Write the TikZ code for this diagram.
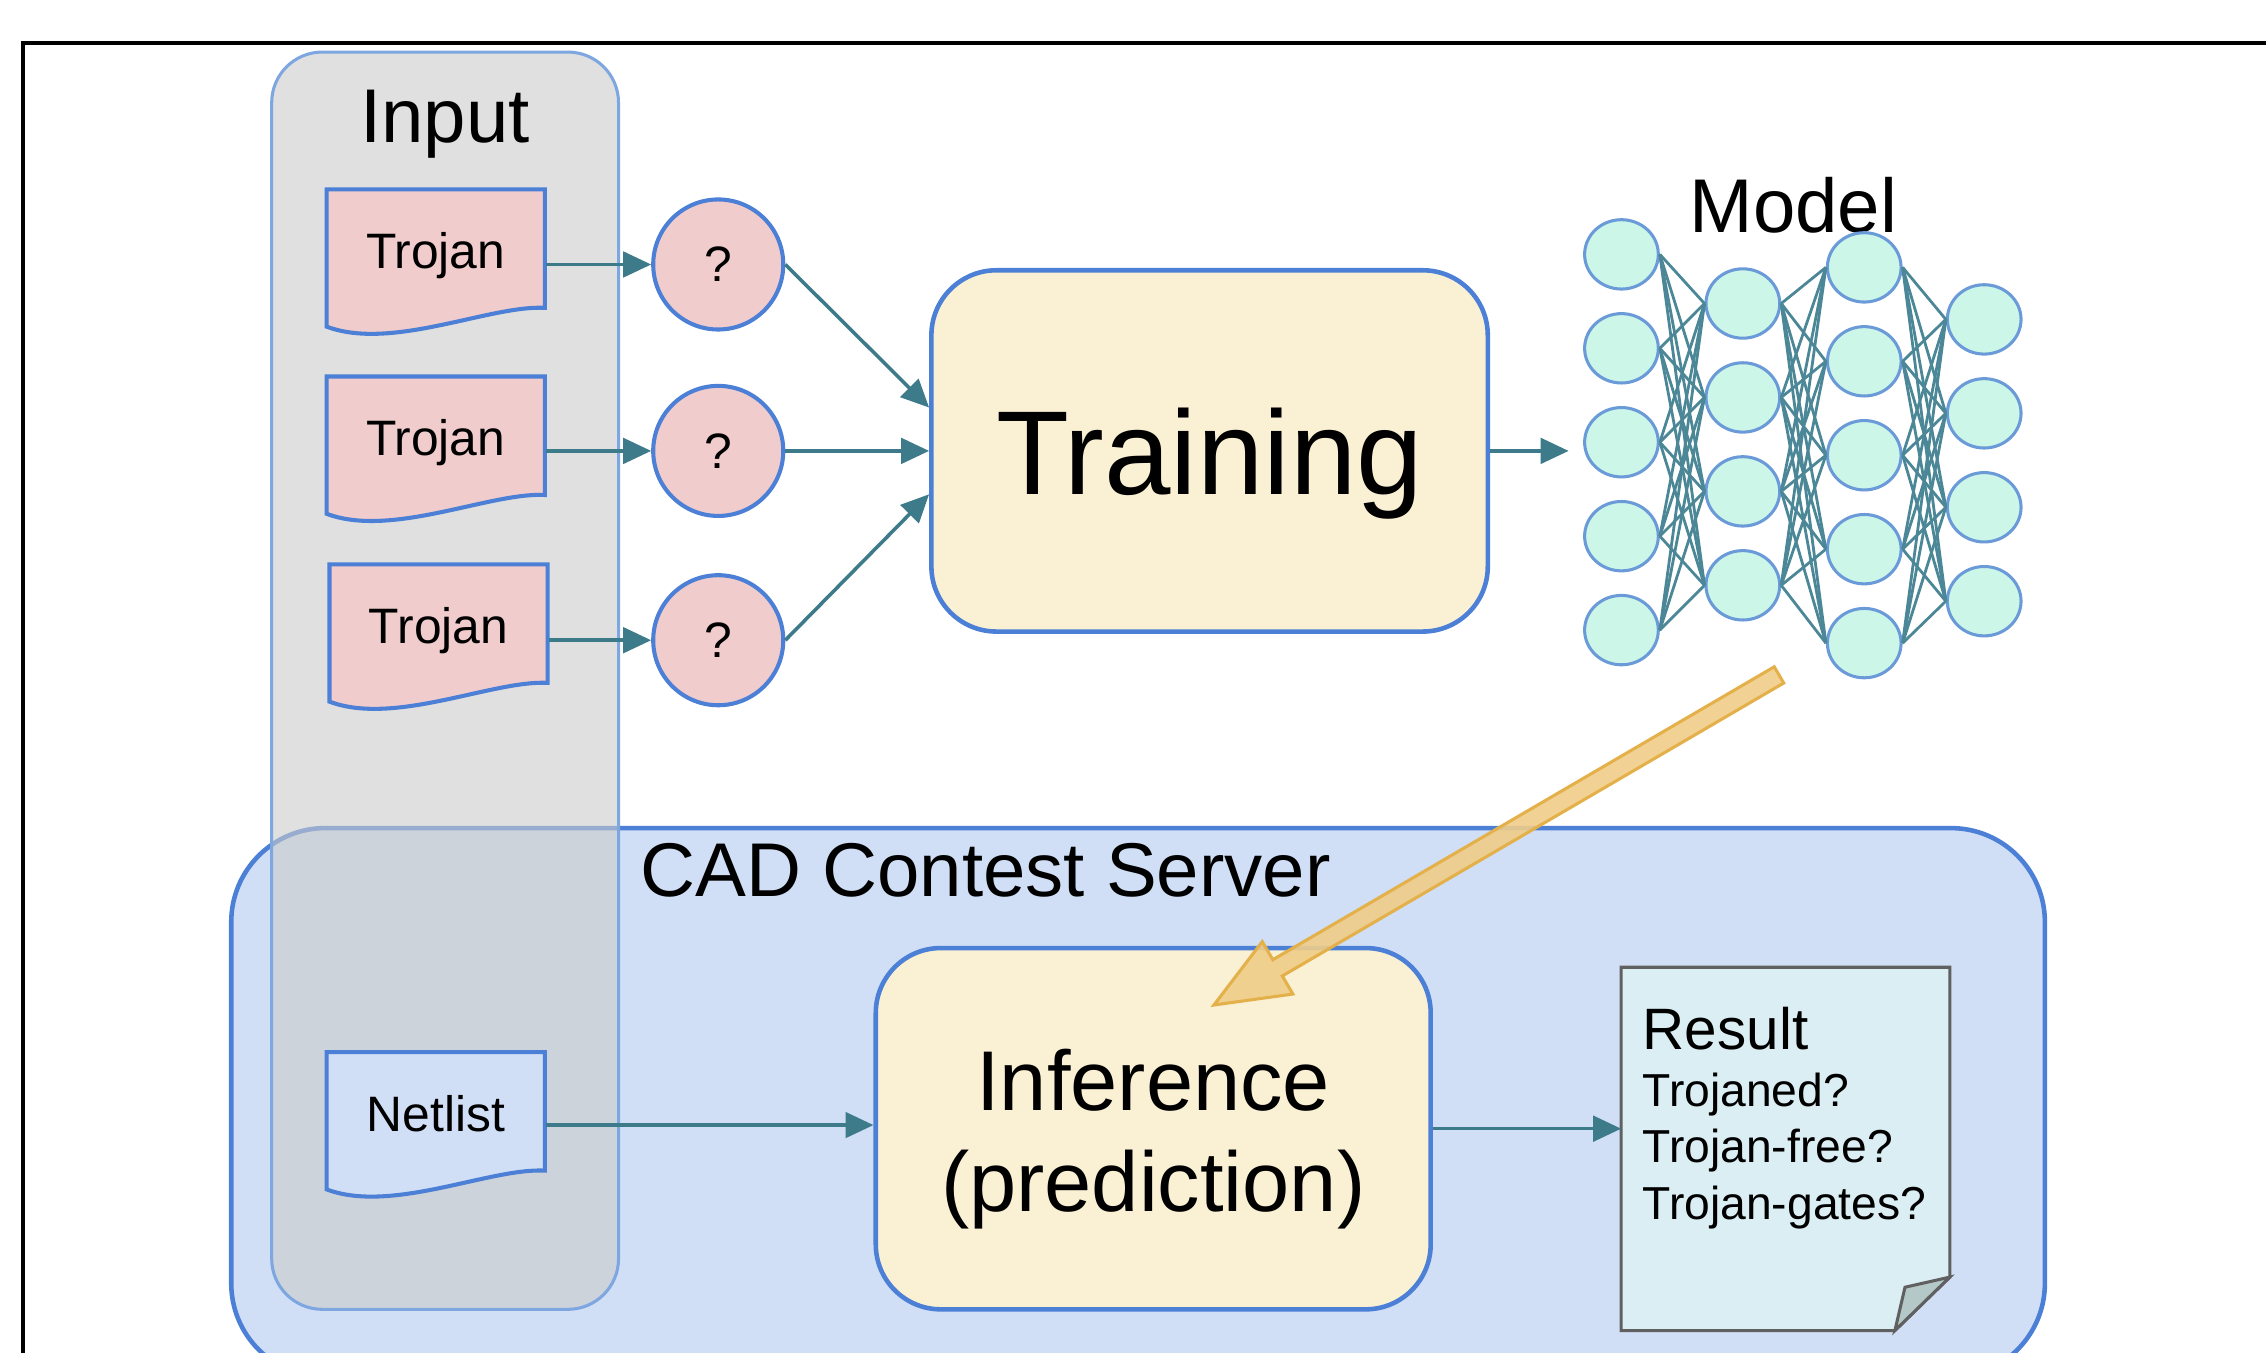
\documentclass[tikz,border=0pt]{standalone}
\usepackage{fontspec}
\setmainfont{Liberation Sans}
\usetikzlibrary{arrows.meta,calc,shapes.geometric}
\definecolor{linkteal}{HTML}{3D7A8A}
\definecolor{boxblue}{HTML}{4C7FD6}
\definecolor{trojanpink}{HTML}{F0CCCC}
\definecolor{creamfill}{HTML}{FAF0D4}
\definecolor{mintfill}{HTML}{CCF6E8}
\definecolor{mintline}{HTML}{6A9AD8}
\definecolor{wireteal}{HTML}{4B8796}
\definecolor{panelgray}{HTML}{CBCBCB}
\definecolor{panelline}{HTML}{7EA6E0}
\definecolor{serverblue}{HTML}{D0DFF5}
\definecolor{resultfill}{HTML}{DBEEF4}
\definecolor{resline}{HTML}{606060}
\definecolor{foldfill}{HTML}{B4C8C8}
\definecolor{arrowgold}{HTML}{F0CD88}
\definecolor{arrowgoldline}{HTML}{E3B04A}
\newcommand{\docnode}[4]{%
  \draw[docline,fill=#3] ($#2+(-75.5,-50.5)$) -- ++(151,0) -- ++(0,82)
    .. controls +(-38,-2) and +(45,17) .. ++(-151,13) -- cycle;
  \node[doc] (#1) at #2 {#4};
}

\begin{document}
\begin{tikzpicture}[
      x=0.1mm,y=-0.1mm,
      every node/.style={inner sep=0pt},
      flow/.style={draw=linkteal,line width=0.7pt,-{Triangle[length=5.5pt,width=5pt]}},
      docline/.style={draw=boxblue,line width=0.8pt},
      doc/.style={minimum width=15.1mm,minimum height=10.1mm,text depth=1.6mm,font=\fontsize{9.8}{12}\selectfont},
      qnode/.style={circle,draw=boxblue,line width=0.8pt,fill=trojanpink,minimum size=9mm,font=\fontsize{9.8}{12}\selectfont},
      stage/.style={rounded corners=4.5mm,draw=boxblue,line width=0.9pt,fill=creamfill,minimum width=38.5mm,minimum height=25mm},
      neuron/.style={ellipse,draw=mintline,line width=0.6pt,fill=mintfill,minimum width=5.1mm,minimum height=4.8mm},
      wire/.style={draw=wireteal,line width=0.55pt},
      title/.style={font=\fontsize{15}{18}\selectfont}
    ]
  \useasboundingbox (0,0) rectangle (1568,936);
  \clip (0,0) rectangle (1568,936);
  \draw[line width=0.75pt] (16,1000) |- (1700,30);
  \node[rounded corners=6.5mm,draw=boxblue,line width=0.9pt,fill=serverblue,
    minimum width=125.5mm,minimum height=38mm] (server) at (787.5,763) {};
  \node[rounded corners=3.5mm,draw=panelline,line width=0.6pt,fill=panelgray,fill opacity=0.6,
    minimum width=24mm,minimum height=87mm] (inpanel) at (308,471) {};
  \node[title] (input) at (308,86) {Input};
  \node[title] (cad) at (682,602) {CAD Contest Server};

  \docnode{t1}{(301.5,181.5)}{trojanpink}{Trojan}
  \docnode{t2}{(301.5,311)}{trojanpink}{Trojan}
  \docnode{t3}{(303.5,441)}{trojanpink}{Trojan}
  \foreach \i/\y in {1/183,2/312,3/443}
    \node[qnode] (q\i) at (497,\y) {?};
  \node[stage,font=\fontsize{23.5}{28}\selectfont,text depth=0pt] (train) at (837,312) {Training};
  \foreach \i in {1,2,3}
    \draw[flow] (t\i.east |- q\i) -- (q\i);
  \draw[flow] (q1.east) -- ([yshift=3mm]train.west);
  \draw[flow] (q2) -- (train);
  \draw[flow] (q3.east) -- ([yshift=-3mm]train.west);

  \node[title] (model) at (1241,142) {Model};
  \foreach \i in {1,...,5} {
    \node[neuron] (a\i) at (1122,{111+65*\i}) {};
    \node[neuron] (c\i) at (1290,{120+65*\i}) {};
  }
  \foreach \i in {1,...,4} {
    \node[neuron] (b\i) at (1206,{145+65*\i}) {};
    \node[neuron] (d\i) at (1373,{156+65*\i}) {};
  }
  \foreach \i in {1,...,5}
    \foreach \j in {1,...,4} {
      \draw[wire] (a\i.east) -- (b\j.west);
      \draw[wire] (b\j.east) -- (c\i.west);
      \draw[wire] (c\i.east) -- (d\j.west);
    }
  \draw[flow] (train.east) -- ($(a3.west |- train.east)+(-10,0)$);

  \docnode{net}{(301.5,778.5)}{serverblue}{Netlist}
  \node[stage,minimum width=38.4mm,
    label={[font=\fontsize{16.7}{19.9}\selectfont,align=center,yshift=-0.7mm]center:{Inference\\(prediction)}}] (inf) at (798,781) {};
  \node[minimum width=22.6mm,minimum height=25mm] (res) at (1235.5,795) {};
  \draw[draw=resline,line width=0.6pt,fill=resultfill] (res.north west) -- (res.north east)
    -- ([yshift=3.7mm]res.south east) -- ([xshift=-3.8mm]res.south east) -- (res.south west) -- cycle;
  \draw[draw=resline,line width=0.6pt,fill=foldfill] ([yshift=3.7mm]res.south east)
    -- ([xshift=-3.1mm,yshift=3mm]res.south east) -- ([xshift=-3.8mm]res.south east) -- cycle;
  \node[anchor=north west,text width=21mm,align=left,font=\fontsize{9.1}{11.2}\selectfont] (restext) at (1136,696)
    {{\fontsize{11.5}{11.2}\selectfont Result}\\Trojaned?\\Trojan-free?\\Trojan-gates?};
  \draw[flow] (net.east) -- (net.east -| inf.west);
  \draw[flow] (inf.east) -- (inf.east -| res.west);

  \coordinate (mtail) at (1231,467);
  \coordinate (mtip) at ($(inf.north)+(42,41)$);
  \coordinate (mbase) at ($(mtip)!5.1mm!(mtail)$);
  \filldraw[fill=arrowgold,draw=arrowgoldline,line width=0.6pt,fill opacity=0.9]
    ($(mtail)!0.65mm!90:(mtip)$) -- ($(mbase)!0.65mm!-90:(mtail)$) -- ($(mbase)!2.1mm!-90:(mtail)$)
    -- (mtip) -- ($(mbase)!2.1mm!90:(mtail)$) -- ($(mbase)!0.65mm!90:(mtail)$)
    -- ($(mtail)!0.65mm!-90:(mtip)$) -- cycle;
\end{tikzpicture}
\end{document}
